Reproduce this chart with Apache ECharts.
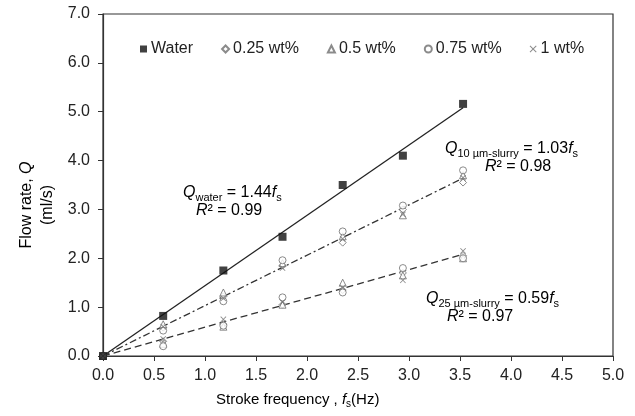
<!DOCTYPE html>
<html><head><meta charset="utf-8">
<script src="https://cdn.jsdelivr.net/npm/echarts@6/dist/echarts.min.js"></script>
<style>html,body{margin:0;padding:0;background:#fff}#c{width:635px;height:416px}</style>
</head><body><div id="c"></div>
<script>
const freq = [0, 0.59, 1.18, 1.76, 2.35, 2.94, 3.53];
const water = [0, 0.82, 1.75, 2.44, 3.50, 4.10, 5.16];
// 10 µm slurry
const s10_025 = [0, 0.58, 1.22, 1.85, 2.32, 3.00, 3.55];
const s10_05  = [0, 0.65, 1.30, 1.90, 2.45, 2.88, 3.70];
const s10_075 = [0, 0.52, 1.12, 1.96, 2.55, 3.08, 3.80];
const s10_1   = [0, 0.60, 1.18, 1.80, 2.40, 2.90, 3.65];
// 25 µm slurry
const s25_025 = [0, 0.30, 0.65, 1.05, 1.35, 1.70, 2.05];
const s25_05  = [0, 0.25, 0.60, 1.05, 1.50, 1.65, 2.00];
const s25_075 = [0, 0.20, 0.62, 1.20, 1.30, 1.80, 2.00];
const s25_1   = [0, 0.35, 0.75, 1.10, 1.40, 1.55, 2.15];
// fit lines (endpoints)
const fitX = [0, 3.53];
const fitWater = [0, 5.08];
const fit10 = [0, 3.64];
const fit25 = [0, 2.08];
const xTicks = ['0.0','0.5','1.0','1.5','2.0','2.5','3.0','3.5','4.0','4.5','5.0'];
const yTicks = ['0.0','1.0','2.0','3.0','4.0','5.0','6.0','7.0'];
const legendNames = ['Water','0.25 wt%','0.5 wt%','0.75 wt%','1 wt%'];

const pts = (xs, ys) => xs.map((x, i) => [x, ys[i]]);
const FONT = 'Liberation Sans, Arial, sans-serif';
const crossPath = 'path://M0,1L1,0L5,4L9,0L10,1L6,5L10,9L9,10L5,6L1,10L0,9L4,5Z';
const gray = '#6e6e6e';
const hollow = (name, sym, ys, size) => ({
  type: 'scatter', name: name, data: pts(freq, ys), symbol: sym, symbolSize: size,
  itemStyle: { color: '#fff', borderColor: gray, borderWidth: 1 }, z: 5
});
const crossS = (name, ys) => ({
  type: 'scatter', name: name, data: pts(freq, ys), symbol: crossPath, symbolSize: 6,
  itemStyle: { color: gray }, z: 5
});
const fitLine = (ys, type, color) => ({
  type: 'line', data: pts(fitX, ys), symbol: 'none', silent: true,
  lineStyle: { color: color, width: 1.3, type: type }, z: 3
});

const chart = echarts.init(document.getElementById('c'));
const rich = {
  i: { fontStyle: 'italic', fontSize: 16, fontFamily: FONT, color: '#222', lineHeight: 20 },
  n: { fontSize: 16, fontFamily: FONT, color: '#222', lineHeight: 20 },
  sub: { fontSize: 11, fontFamily: FONT, color: '#222', lineHeight: 9, verticalAlign: 'bottom' }
};
chart.setOption({
  animation: false,
  grid: { left: 103, right: 22, top: 14, bottom: 60, show: true, borderColor: '#333', borderWidth: 1.2 },
  legend: {
    data: [
      { name: 'Water', icon: 'rect' },
      { name: '0.25 wt%', icon: 'diamond' },
      { name: '0.5 wt%', icon: 'triangle' },
      { name: '0.75 wt%', icon: 'circle' },
      { name: '1 wt%', icon: crossPath }
    ],
    left: 135, top: 36, itemWidth: 7, itemHeight: 7, itemGap: 28,
    textStyle: { fontSize: 16, fontFamily: FONT, color: '#222', padding: [0, 0, 0, -1] }
  },
  xAxis: {
    type: 'value', min: 0, max: 5, interval: 0.5,
    axisLine: { show: true, lineStyle: { color: '#333', width: 1.2 } },
    axisTick: { show: true, length: 5, lineStyle: { color: '#333' } },
    splitLine: { show: false },
    axisLabel: { fontSize: 16, fontFamily: FONT, color: '#222', margin: 12,
      formatter: v => xTicks[Math.round(v / 0.5)] }
  },
  yAxis: {
    type: 'value', min: 0, max: 7, interval: 1,
    axisLine: { show: true, lineStyle: { color: '#333', width: 1.2 } },
    axisTick: { show: true, length: 5, lineStyle: { color: '#333' } },
    splitLine: { show: false },
    axisLabel: { fontSize: 16, fontFamily: FONT, color: '#222', margin: 13,
      formatter: v => yTicks[Math.round(v)] }
  },
  graphic: [
    { type: 'text', x: 37, y: 205, rotation: Math.PI / 2,
      style: { text: '{n|Flow rate, }{i|Q}\n{n|(ml/s)}', align: 'center', verticalAlign: 'middle',
        rich: { n: { fontSize: 16, fontFamily: FONT, color: '#222', lineHeight: 21, align: 'center' },
                i: { fontSize: 16, fontFamily: FONT, color: '#222', lineHeight: 21, fontStyle: 'italic' } } } },
    { type: 'text', left: 216, top: 392,
      style: { text: '{n|Stroke frequency , }{i|f}{sub|s}{n|(Hz)}',
        rich: { n: { fontSize: 15, fontFamily: FONT, color: '#222', lineHeight: 19 },
                i: { fontSize: 15, fontFamily: FONT, color: '#222', lineHeight: 19, fontStyle: 'italic' },
                sub: { fontSize: 10, fontFamily: FONT, color: '#222', lineHeight: 9, verticalAlign: 'bottom' } } } },
    { type: 'text', left: 183, top: 185,
      style: { text: '{i|Q}{sub|water}{n| = 1.44}{i|f}{sub|s}', rich: rich } },
    { type: 'text', left: 196, top: 203,
      style: { text: '{i|R}{n|² = 0.99}', rich: rich } },
    { type: 'text', left: 445, top: 141,
      style: { text: '{i|Q}{sub|10 µm-slurry}{n| = 1.03}{i|f}{sub|s}', rich: rich } },
    { type: 'text', left: 485, top: 159,
      style: { text: '{i|R}{n|² = 0.98}', rich: rich } },
    { type: 'text', left: 426, top: 291,
      style: { text: '{i|Q}{sub|25 µm-slurry}{n| = 0.59}{i|f}{sub|s}', rich: rich } },
    { type: 'text', left: 447, top: 309,
      style: { text: '{i|R}{n|² = 0.97}', rich: rich } }
  ],
  series: [
    fitLine(fitWater, 'solid', '#222'),
    fitLine(fit10, [7, 3, 2, 3], '#333'),
    fitLine(fit25, [7, 4], '#333'),
    { type: 'scatter', name: 'Water', data: pts(freq, water), symbol: 'rect', symbolSize: 8,
      itemStyle: { color: '#111' }, z: 6 },
    hollow('0.25 wt%', 'diamond', s10_025, 7),
    hollow('0.5 wt%', 'triangle', s10_05, 7),
    hollow('0.75 wt%', 'circle', s10_075, 7),
    crossS('1 wt%', s10_1),
    hollow('0.25 wt%', 'diamond', s25_025, 7),
    hollow('0.5 wt%', 'triangle', s25_05, 7),
    hollow('0.75 wt%', 'circle', s25_075, 7),
    crossS('1 wt%', s25_1)
  ]
});
</script></body></html>
